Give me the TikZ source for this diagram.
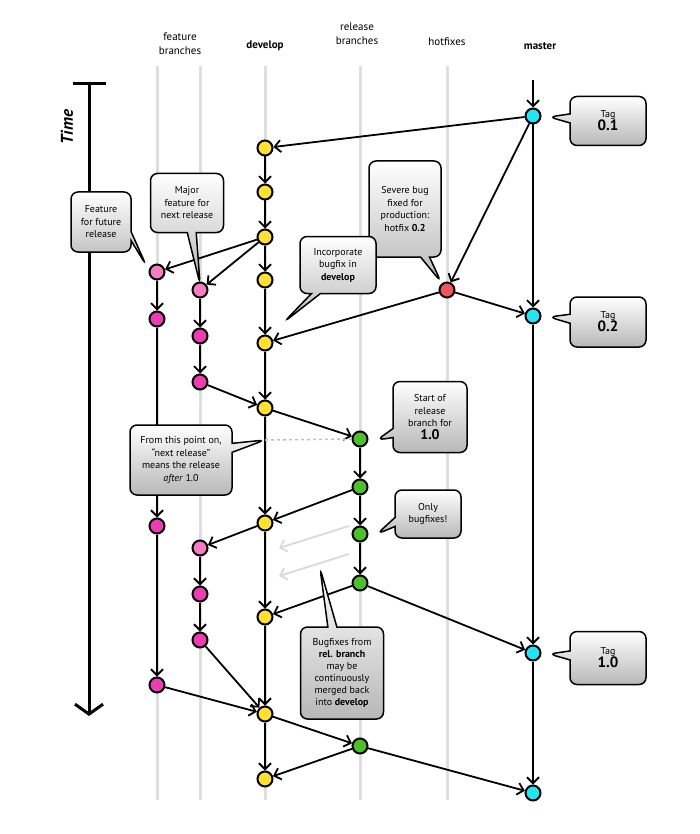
\documentclass[tikz,border=0pt]{standalone}
\usepackage{fontspec}
\setmainfont{PT Sans}
\usetikzlibrary{arrows.meta, shapes.callouts, positioning, calc}

\definecolor{devyellow}{HTML}{FFE033}
\definecolor{featpink}{HTML}{F77CC4}
\definecolor{featmag}{HTML}{EE3CB3}
\definecolor{hotred}{HTML}{F0555F}
\definecolor{relgreen}{HTML}{4DBF2A}
\definecolor{mastcyan}{HTML}{26E3F3}
\definecolor{lanegray}{HTML}{DEDEDE}

\tikzset{
  commit/.style={circle, draw=black, line width=2pt, minimum size=15pt, inner sep=0pt},
  devc/.style={commit, fill=devyellow},
  featnew/.style={commit, fill=featpink},
  featc/.style={commit, fill=featmag},
  hotc/.style={commit, fill=hotred},
  relc/.style={commit, fill=relgreen},
  mastc/.style={commit, fill=mastcyan},
  flow/.style={line width=1.8pt, -{Straight Barb[length=6pt,width=12pt]}},
  ghost/.style={flow, draw=black!15},
  lane/.style={draw=lanegray, line width=3pt},
  head/.style={align=center, font=\fontsize{11}{14}\selectfont},
  note/.style={rectangle callout, rounded corners=7pt, draw=black, line width=1.5pt,
    top color=white, bottom color=black!28, align=center, inner sep=2pt,
    callout pointer width=9pt, font=\fontsize{10}{12.5}\selectfont},
}

\begin{document}
\begin{tikzpicture}[x=1pt,y=-1pt]
\useasboundingbox (0,0) rectangle (700,834);

% lanes
\foreach \lx in {157,200,265,360,447}
  \draw[lane] (\lx,66) -- (\lx,800);

% headings
\node[head] (hfeat) at (180,44) {feature\\branches};
\node[head, font=\bfseries\fontsize{11}{14}\selectfont] (hdev) at (265,46) {develop};
\node[head] (hrel) at (357,34) {release\\branches};
\node[head] (hhot) at (447,42) {hotfixes};
\node[head, font=\bfseries\fontsize{11}{14}\selectfont] (hmast) at (540,46) {master};

% time axis
\node[rotate=90, font=\bfseries\itshape\fontsize{17}{17}\selectfont] (time) at (67,127) {Time};
\coordinate (ttop) at (89,84);
\coordinate (tend) at (89,716);
\draw[line width=3pt] (73,84) -- (106,84);
\draw[line width=3pt, -{Straight Barb[length=10pt,width=28pt]}] (ttop) -- (tend);

% master
\coordinate (mstart) at (533,80);
\node[mastc] (M1) at (533,116) {};
\node[mastc] (M2) at (533,316) {};
\node[mastc] (M3) at (533,653) {};
\node[mastc] (M4) at (533,793) {};

% hotfix
\node[hotc] (H) at (447,290) {};

% develop
\node[devc] (D1) at (265,148) {};
\node[devc] (D2) at (265,192) {};
\node[devc] (D3) at (265,237) {};
\node[devc] (D4) at (265,280) {};
\node[devc] (D5) at (265,343) {};
\node[devc] (D6) at (265,408) {};
\node[devc] (D7) at (265,523) {};
\node[devc] (D8) at (265,617) {};
\node[devc] (D9) at (265,714) {};
\node[devc] (D10) at (265,779) {};

% feature branches
\node[featnew] (F1a) at (157,272) {};
\node[featc] (F1b) at (157,319) {};
\node[featc] (F1c) at (157,526) {};
\node[featc] (F1d) at (157,685) {};
\node[featnew] (F2a) at (200,290) {};
\node[featc] (F2b) at (200,336) {};
\node[featc] (F2c) at (200,382) {};
\node[featnew] (F2d) at (200,548) {};
\node[featc] (F2e) at (200,594) {};
\node[featc] (F2f) at (200,640) {};

% release branch
\node[relc] (R1) at (360,439) {};
\node[relc] (R2) at (360,487) {};
\node[relc] (R3) at (360,534) {};
\node[relc] (R4) at (360,583) {};
\node[relc] (R5) at (360,746) {};

% merges and commits
\draw[flow] (mstart) -- (M1);
\draw[flow] (M1) -- (D1);
\draw[flow] (M1) -- (H);
\draw[flow] (M1) -- (M2);
\draw[flow] (H) -- (M2);
\draw[flow] (H) -- (D5);
\draw[flow] (M2) -- (M3);
\draw[flow] (M3) -- (M4);

\draw[flow] (D1) -- (D2);
\draw[flow] (D2) -- (D3);
\draw[flow] (D3) -- (D4);
\draw[flow] (D4) -- (D5);
\draw[flow] (D5) -- (D6);
\draw[flow] (D6) -- (D7);
\draw[flow] (D7) -- (D8);
\draw[flow] (D8) -- (D9);
\draw[flow] (D9) -- (D10);

\draw[flow] (D3) -- (F1a);
\draw[flow] (D3) -- (F2a);
\draw[flow] (F1a) -- (F1b);
\draw[flow] (F1b) -- (F1c);
\draw[flow] (F1c) -- (F1d);
\draw[flow] (F2a) -- (F2b);
\draw[flow] (F2b) -- (F2c);
\draw[flow] (F2c) -- (D6);
\draw[flow] (D7) -- (F2d);
\draw[flow] (F2d) -- (F2e);
\draw[flow] (F2e) -- (F2f);
\draw[flow] (F2f) -- (D9);
\draw[flow] (F1d) -- (D9);

\draw[flow] (D6) -- (R1);
\draw[flow] (R1) -- (R2);
\draw[flow] (R2) -- (R3);
\draw[flow] (R3) -- (R4);
\draw[flow] (R2) -- (D7);
\draw[flow] (R4) -- (D8);
\draw[flow] (R4) -- (M3);
\draw[flow] (D9) -- (R5);
\draw[flow] (R5) -- (D10);
\draw[flow] (R5) -- (M4);

% continuous merges back
\coordinate (g1s) at (349,526);
\coordinate (g1e) at (279,548);
\coordinate (g2s) at (349,554);
\coordinate (g2e) at (279,576);
\draw[ghost] (g1s) -- (g1e);
\draw[ghost] (g2s) -- (g2e);

\coordinate (nextrel) at (265,440);
\draw[black!25, line width=1.5pt, dashed] (nextrel) -- (R1);

% notes
\node[note, minimum width=76pt, minimum height=49pt, callout absolute pointer={(549,117)}]
  (tag01) at (608,121) {Tag\\[-1pt]{\bfseries\fontsize{15}{15}\selectfont 0.1}};
\node[note, minimum width=76pt, minimum height=50pt, callout absolute pointer={(549,317)}]
  (tag02) at (608,322) {Tag\\[-1pt]{\bfseries\fontsize{15}{15}\selectfont 0.2}};
\node[note, minimum width=76pt, minimum height=53pt, callout absolute pointer={(549,654)}]
  (tag10) at (608,658) {Tag\\[-1pt]{\bfseries\fontsize{15}{15}\selectfont 1.0}};
\node[note, minimum width=72pt, minimum height=96pt, callout absolute pointer={(441,282)}]
  (severe) at (405,209) {Severe bug\\fixed for\\production:\\hotfix \textbf{0.2}};
\node[note, minimum width=76pt, minimum height=57pt, callout absolute pointer={(284,322)}]
  (incorp) at (338,265) {Incorporate\\bugfix in\\\textbf{develop}};
\node[note, minimum width=60pt, minimum height=60pt, callout absolute pointer={(146,265)}]
  (future) at (101,222) {Feature\\for future\\release};
\node[note, minimum width=73pt, minimum height=59pt, callout absolute pointer={(200,284)}]
  (major) at (187,203) {Major\\feature for\\next release};
\node[note, minimum width=74pt, minimum height=71pt, callout absolute pointer={(377,440)}]
  (start) at (430,417) {Start of\\release\\branch for\\{\bfseries\fontsize{14}{14}\selectfont 1.0}};
\node[note, minimum width=102pt, minimum height=70pt, callout absolute pointer={(nextrel)}]
  (point) at (181,460) {From this point on,\\“next release”\\means the release\\\textit{after} 1.0};
\node[note, minimum width=66pt, minimum height=48pt, callout absolute pointer={(377,534)}]
  (only) at (428,514) {Only\\bugfixes!};
\node[note, minimum width=83pt, minimum height=92pt, font=\fontsize{10}{12}\selectfont,
  callout absolute pointer={(320,568)}]
  (bugfix) at (342,673) {Bugfixes from\\\textbf{rel. branch}\\may be\\continuously\\merged back\\into \textbf{develop}};

\end{tikzpicture}
\end{document}
